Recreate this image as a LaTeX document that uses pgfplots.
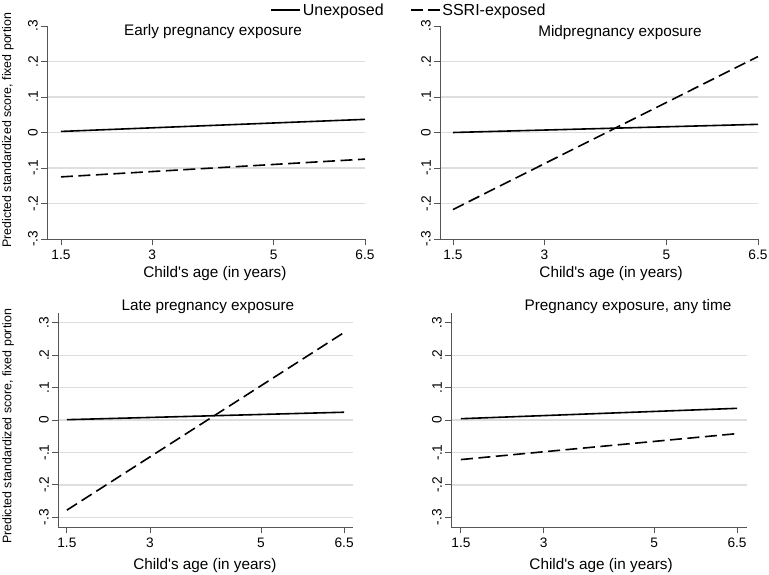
\documentclass[border=0pt]{standalone}
\usepackage{fontspec}
\setmainfont{Liberation Sans}
\usepackage{pgfplots}
\pgfplotsset{compat=1.18}
\definecolor{gridc}{RGB}{222,222,222}
\definecolor{axc}{RGB}{85,85,85}
\pgfplotsset{
  panel/.style={
    scale only axis,
    axis x line*=bottom, axis y line*=left,
    axis line style={axc, line width=0.9pt, -},
    tick style={axc, line width=0.9pt},
    tick align=outside, major tick length=6pt,
    xtick={1.5,3,5,6.5}, xticklabels={1.5,3,5,6.5},
    yticklabel style={rotate=90, anchor=south, inner sep=3pt},
    xticklabel style={inner sep=5pt},
    ticklabel style={font=\fontsize{13.7}{14}\selectfont},
    ymajorgrids=true,
    major grid style={gridc, line width=1.3pt},
    title style={font=\fontsize{15.3}{17}\selectfont, anchor=center},
    xlabel={Child\textquotesingle s age (in years)},
    xlabel style={font=\fontsize{15.3}{17}\selectfont, anchor=center},
    ylabel style={font=\fontsize{12.4}{14}\selectfont, anchor=center},
    clip=false,
  },
  innergrid/.style={
    ytick={-.2,-.1,0,.1,.2}, yticklabels={-.2,-.1,0,.1,.2},
    extra y ticks={-.3,.3}, extra y tick labels={-.3,.3},
    extra y tick style={grid=none},
  },
  solidl/.style={black, line width=1.6pt},
  dashl/.style={black, line width=1.6pt, dash pattern=on 12pt off 5.5pt},
}
\begin{document}
\begin{tikzpicture}
\fill[white] (0pt,0pt) rectangle (769pt,-575pt);
\useasboundingbox (0pt,0pt) rectangle (769pt,-575pt);
% Top-left
\begin{axis}[panel, innergrid,
  at={(47pt,-239pt)}, anchor=south west, width=318pt, height=213pt,
  xmin=1.27, xmax=6.5, ymin=-.3, ymax=.3,
  title={Early pregnancy exposure},
  title style={at={(axis description cs:0.522,0.948)}},
  xlabel style={at={(axis description cs:0.528,-0.164)}},
  ylabel={Predicted standardized score, fixed portion},
  ylabel style={at={(axis description cs:-0.123,0.51)}},
  legend columns=2,
  legend style={at={(axis description cs:1.138,1.075)}, anchor=center, draw=none, fill=none,
    font=\fontsize{16}{18}\selectfont, inner sep=0pt,
    /tikz/every even column/.append style={column sep=24pt}},
  legend image code/.code={\draw[#1] (0pt,0pt) -- (29pt,0pt);},
]
\addplot[solidl] coordinates {(1.5,0.003) (6.5,0.037)};
\addlegendentry{Unexposed}
\addplot[dashl] coordinates {(1.5,-0.125) (6.5,-0.075)};
\addlegendentry{SSRI-exposed}
\end{axis}
% Top-right
\begin{axis}[panel, innergrid,
  at={(440pt,-239pt)}, anchor=south west, width=318pt, height=213pt,
  xmin=1.287, xmax=6.5, ymin=-.3, ymax=.3,
  title={Midpregnancy exposure},
  title style={at={(axis description cs:0.566,0.943)}},
  xlabel style={at={(axis description cs:0.538,-0.164)}},
]
\addplot[solidl] coordinates {(1.5,0.0) (6.5,0.023)};
\addplot[dashl] coordinates {(1.5,-0.217) (6.5,0.214)};
\end{axis}
% Bottom-left
\begin{axis}[panel,
  at={(58pt,-527pt)}, anchor=south west, width=295pt, height=214pt,
  xmin=1.34, xmax=6.66, ymin=-.33, ymax=.33,
  ytick={-.3,-.2,-.1,0,.1,.2,.3}, yticklabels={-.3,-.2,-.1,0,.1,.2,.3},
  title={Late pregnancy exposure},
  title style={at={(axis description cs:0.508,1.0)}},
  xlabel style={at={(axis description cs:0.498,-0.178)}},
  ylabel={Predicted standardized score, fixed portion},
  ylabel style={at={(axis description cs:-0.169,0.47)}},
]
\addplot[solidl] coordinates {(1.5,0.001) (6.5,0.024)};
\addplot[dashl] coordinates {(1.5,-0.278) (6.5,0.270)};
\end{axis}
% Bottom-right
\begin{axis}[panel, innergrid,
  at={(451pt,-527pt)}, anchor=south west, width=296pt, height=214pt,
  xmin=1.32, xmax=6.68, ymin=-.33, ymax=.33,
  title={Pregnancy exposure, any time},
  title style={at={(axis description cs:0.598,1.0)}},
  xlabel style={at={(axis description cs:0.507,-0.178)}},
]
\addplot[solidl] coordinates {(1.5,0.004) (6.5,0.036)};
\addplot[dashl] coordinates {(1.5,-0.122) (6.5,-0.042)};
\end{axis}
\end{tikzpicture}
\end{document}
